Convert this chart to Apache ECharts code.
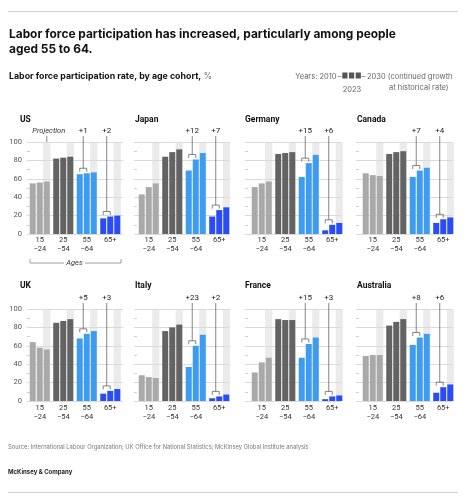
<!DOCTYPE html>
<html><head><meta charset="utf-8">
<script src="https://cdn.jsdelivr.net/npm/echarts@6/dist/echarts.min.js"></script>
<style>html,body{margin:0;padding:0;background:#fff}#c{width:470px;height:500px}</style>
</head><body><div id="c"></div>
<script>
// ---------- data ----------
const ages = ['15\n−24', '25\n−54', '55\n−64', '65+'];
const years = ['2010', '2023', '2030'];
const countries = ['US', 'Japan', 'Germany', 'Canada', 'UK', 'Italy', 'France', 'Australia'];
// rows: 2010, 2023, 2030 ; columns: ages
const US        = [[55, 82, 65, 17], [56, 83, 66, 19], [57, 84, 67, 20]];
const Japan     = [[43, 84, 69, 19], [51, 89, 81, 26], [55, 92, 88, 29]];
const Germany   = [[51, 87, 62, 4],  [55, 88, 77, 10], [57, 89, 86, 12]];
const Canada    = [[66, 87, 62, 12], [64, 89, 69, 16], [63, 90, 72, 18]];
const UK        = [[64, 85, 68, 8],  [58, 87, 73, 11], [56, 89, 76, 13]];
const Italy     = [[28, 76, 37, 3],  [26, 80, 60, 5],  [25, 83, 72, 7]];
const France    = [[31, 89, 47, 2],  [42, 88, 62, 5],  [47, 88, 69, 6]];
const Australia = [[49, 82, 61, 9],  [50, 86, 69, 15], [50, 89, 73, 18]];
const yTicks = [0, 20, 40, 60, 80, 100];
const annotatedAges = [2, 3];

const panelData = [US, Japan, Germany, Canada, UK, Italy, France, Australia];

// ---------- style / layout ----------
const FONT = 'Roboto, "Liberation Sans", Arial, sans-serif';
const HFONT = 'Inter, Roboto, "Liberation Sans", Arial, sans-serif';
const ageColors = ['#a9a9a9', '#636363', '#3d9bf0', '#2a4cf4'];
const colLine = [27, 134, 245, 356];
const colBar = [28, 137, 250, 361];
const titleX = [20, 135, 245, 357];
const rowTop = [142, 309];
const rowTitleY = [120, 286];
const PH = 92;
const BW = 6, BGAP = 0.17;
const OFF = BW * (1 + BGAP);

const grid = [], xAxis = [], yAxis = [], series = [], graphic = [];

panelData.forEach((pd, i) => {
  const col = i % 4, row = Math.floor(i / 4);
  const gA = i * 2, gB = i * 2 + 1;
  grid.push({ left: colLine[col], top: rowTop[row], width: 96, height: PH });
  grid.push({ left: colBar[col], top: rowTop[row], width: 94, height: PH });
  xAxis.push({ gridIndex: gA, type: 'value', min: 0, max: 1, show: false });
  yAxis.push({
    gridIndex: gA, type: 'value', min: 0, max: 100, interval: 20,
    axisLine: { show: false },
    axisTick: { show: false, inside: true },
    minorTick: { show: true, splitNumber: 2, length: 3, lineStyle: { color: '#cfcfcf', width: 1 } },
    splitLine: { show: true, lineStyle: { color: '#dadada', width: 1 } },
    axisLabel: { show: col === 0, fontSize: 7.5, color: '#555', margin: 5, fontFamily: FONT }
  });
  xAxis.push({
    gridIndex: gB, type: 'category', data: ages,
    axisLine: { show: false }, axisTick: { show: false },
    axisLabel: { fontSize: 7.5, color: '#333', lineHeight: 9.5, margin: row === 0 ? 1 : 2, fontFamily: FONT, interval: 0 }
  });
  yAxis.push({ gridIndex: gB, type: 'value', min: 0, max: 100, show: false });

  // projection band
  series.push({
    type: 'custom', xAxisIndex: gB, yAxisIndex: gB, z: -1, silent: true,
    data: ages.map((a, k) => [k, 100]),
    renderItem(params, api) {
      const t = api.coord([api.value(0), api.value(1)]);
      const b = api.coord([api.value(0), 0]);
      const x = t[0] + OFF;
      return { type: 'rect', shape: { x: x - 3.6, y: t[1], width: 7.2, height: b[1] - t[1] }, style: { fill: '#ebebeb' } };
    }
  });
  // bars
  years.forEach((yr, y) => {
    series.push({
      type: 'bar', name: yr, xAxisIndex: gB, yAxisIndex: gB,
      barWidth: BW, barGap: (BGAP * 100) + '%', silent: true,
      data: pd[y].map((v, k) => ({ value: v, itemStyle: { color: ageColors[k] } }))
    });
  });
  // brackets + change labels
  series.push({
    type: 'custom', xAxisIndex: gB, yAxisIndex: gB, z: 5, silent: true,
    data: annotatedAges.map(k => [k, pd[0][k], pd[1][k]]),
    renderItem(params, api) {
      const k = api.value(0), a = api.value(1), b = api.value(2);
      const c = api.coord([k, Math.max(a, b)]);
      const topY = api.coord([k, 100])[1];
      const x1 = c[0] - OFF, x2 = c[0], xm = (x1 + x2) / 2;
      const yb = c[1] - 5;
      const d = Math.round(b - a);
      return { type: 'group', children: [
        { type: 'polyline', shape: { points: [[x1, yb + 3.5], [x1, yb], [x2, yb], [x2, yb + 3.5]] },
          style: { stroke: '#666', fill: null, lineWidth: 0.8 } },
        { type: 'line', shape: { x1: xm, y1: yb, x2: xm, y2: topY - 6 }, style: { stroke: '#666', lineWidth: 0.8 } },
        { type: 'text', x: xm, y: topY - 11, style: { text: (d >= 0 ? '+' : '') + d, align: 'center', verticalAlign: 'middle',
          fontSize: 8, fontFamily: FONT, fill: '#222' } }
      ] };
    }
  });
  if (i === 0) {
    series.push({
      type: 'custom', xAxisIndex: gB, yAxisIndex: gB, z: 5, silent: true,
      data: [[0, 100]],
      renderItem(params, api) {
        const t = api.coord([api.value(0), api.value(1)]);
        const x = t[0] + OFF;
        return { type: 'group', children: [
          { type: 'line', shape: { x1: x, y1: t[1], x2: x, y2: t[1] - 6 }, style: { stroke: '#666', lineWidth: 0.8 } },
          { type: 'text', x: x + 2, y: t[1] - 11, style: { text: 'Projection', align: 'center', verticalAlign: 'middle',
            fontSize: 7.5, fontStyle: 'italic', fontFamily: FONT, fill: '#333' } }
        ] };
      }
    });
  }
  graphic.push({ type: 'text', x: titleX[col], y: rowTitleY[row],
    style: { text: countries[i], fontSize: 8.5, fontWeight: 'bold', fontFamily: FONT, fill: '#111', verticalAlign: 'middle' } });
});

// header / footer
const txt = (x, y, text, o) => ({ type: 'text', x, y, style: Object.assign({ text, fontFamily: HFONT, verticalAlign: 'middle', fill: '#111' }, o) });
const ln = (x1, y1, x2, y2, c, w) => ({ type: 'line', shape: { x1, y1, x2, y2 }, style: { stroke: c, lineWidth: w || 1 } });

graphic.push(ln(8, 11.5, 458, 11.5, '#cfcfcf', 1));
graphic.push(txt(9, 34, 'Labor force participation has increased, particularly among people', { fontSize: 11.9, fontWeight: 'bold' }));
graphic.push(txt(9, 49.5, 'aged 55 to 64.', { fontSize: 11.9, fontWeight: 'bold' }));
graphic.push({ type: 'text', x: 9, y: 76.5, style: {
  text: '{b|Labor force participation rate, by age cohort, }{g|%}', verticalAlign: 'middle',
  rich: { b: { fontSize: 8.8, fontWeight: 'bold', fontFamily: HFONT, fill: '#111' }, g: { fontSize: 8.8, fontFamily: HFONT, fill: '#777' } } } });
// legend
graphic.push(txt(336.5, 77, 'Years: 2010', { fontSize: 7.5, fill: '#666', align: 'right' }));
graphic.push(ln(337.5, 76.5, 341.5, 76.5, '#888', 0.8));
[342.3, 349, 355.7].forEach(x => graphic.push({ type: 'rect', shape: { x, y: 72.5, width: 5.2, height: 6 }, style: { fill: '#555' } }));
graphic.push(ln(361.5, 76.5, 365.5, 76.5, '#888', 0.8));
graphic.push(txt(367, 77, '2030 (continued growth', { fontSize: 7.5, fill: '#666' }));
graphic.push(txt(352, 89.5, '2023', { fontSize: 7.5, fill: '#666', align: 'center' }));
graphic.push(txt(389, 88, 'at historical rate)', { fontSize: 7.5, fill: '#666' }));
// Ages bracket
graphic.push({ type: 'polyline', shape: { points: [[30, 259], [30, 263], [64, 263]] }, style: { stroke: '#888', fill: null, lineWidth: 0.8 } });
graphic.push({ type: 'polyline', shape: { points: [[85, 263], [121, 263], [121, 259]] }, style: { stroke: '#888', fill: null, lineWidth: 0.8 } });
graphic.push(txt(74.5, 263, 'Ages', { fontSize: 7.5, fontStyle: 'italic', fill: '#333', align: 'center', fontFamily: FONT }));
// footer
graphic.push(txt(8, 447, 'Source: International Labour Organization; UK Office for National Statistics; McKinsey Global Institute analysis', { fontSize: 5.8, fill: '#777' }));
graphic.push(txt(8, 472, 'McKinsey & Company', { fontSize: 6, fontWeight: 'bold', fill: '#222' }));
graphic.push(ln(8, 492.5, 458, 492.5, '#cfcfcf', 1));

const chart = echarts.init(document.getElementById('c'), null, { renderer: 'canvas' });
chart.setOption({ animation: false, grid, xAxis, yAxis, series, graphic });
</script></body></html>
